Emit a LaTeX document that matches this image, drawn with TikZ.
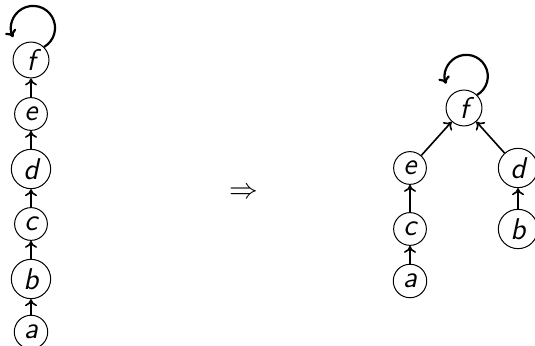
\documentclass[tikz,border=0pt]{standalone}
\usepackage{fontspec}
\usetikzlibrary{arrows.meta}
\begin{document}
\begin{tikzpicture}[x=0.5pt, y=-0.5pt,
  vtx/.style={circle, draw, line width=0.5pt, inner sep=2.4pt,
    font=\fontsize{15}{17}\sffamily\itshape},
  link/.style={line width=0.8pt, -{To[length=3.5pt,width=6pt]}},
  selfloop/.style={line width=1.1pt, -{To[length=3.5pt,width=6pt]}}]
\useasboundingbox (0,0) rectangle (535,346);

% chain before compression
\node[vtx] (lf) at (31,60)    {f};
\node[vtx] (le) at (31,114)   {e};
\node[vtx] (ld) at (31,169)   {d};
\node[vtx] (lc) at (31,224)   {c};
\node[vtx] (lb) at (31,279)   {b};
\node[vtx] (la) at (31,332)   {a};
\draw[link] (la) -- (lb);
\draw[link] (lb) -- (lc);
\draw[link] (lc) -- (ld);
\draw[link] (ld) -- (le);
\draw[link] (le) -- (lf);
\draw[selfloop] (lf.45) arc[start angle=-60, end angle=205, radius=11pt];

% implication sign
\node[font=\fontsize{15}{17}\selectfont] (imp) at (244,193) {$\Rightarrow$};

% tree after compression
\node[vtx] (rf) at (464,108) {f};
\node[vtx] (re) at (410,168) {e};
\node[vtx] (rd) at (518,168) {d};
\node[vtx] (rc) at (410,229) {c};
\node[vtx] (rb) at (518,229) {b};
\node[vtx] (ra) at (410,281) {a};
\draw[link] (ra) -- (rc);
\draw[link] (rc) -- (re);
\draw[link] (re) -- (rf);
\draw[link] (rb) -- (rd);
\draw[link] (rd) -- (rf);
\draw[selfloop] (rf.45) arc[start angle=-60, end angle=200, radius=10.75pt];
\end{tikzpicture}
\end{document}
